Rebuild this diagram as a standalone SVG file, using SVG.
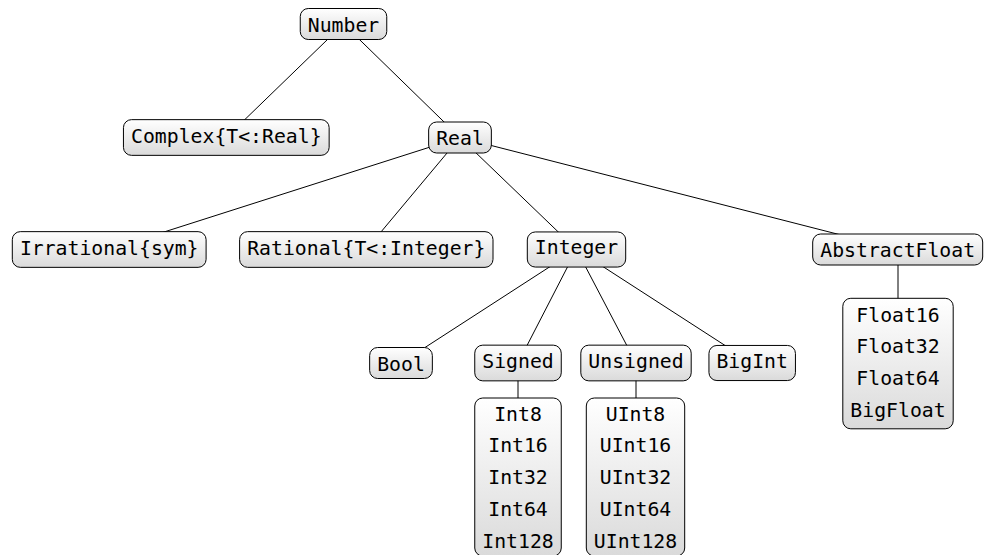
<svg xmlns="http://www.w3.org/2000/svg" width="984" height="555" viewBox="0 0 984 555">
<defs>
<linearGradient id="g" x1="0" y1="0" x2="0" y2="1">
<stop offset="0" stop-color="#ffffff"/>
<stop offset="1" stop-color="#dadada"/>
</linearGradient>
</defs>
<style>
rect{fill:url(#g);stroke:#000;stroke-width:1}
text{font-family:"DejaVu Sans Mono",monospace;font-size:19.8px;fill:#000;text-anchor:middle}
#connectors line{stroke:#000;stroke-width:1}
</style>
<rect x="0" y="0" width="984" height="555" style="fill:#fff;stroke:none"/>
<g id="connectors">
<line x1="343.5" y1="24" x2="226.3" y2="137.5"/>
<line x1="343.5" y1="24" x2="460" y2="137.5"/>
<line x1="460" y1="137.5" x2="109.2" y2="249.5"/>
<line x1="460" y1="137.5" x2="366.3" y2="249.5"/>
<line x1="460" y1="137.5" x2="576.5" y2="249.5"/>
<line x1="460" y1="137.5" x2="897.7" y2="249.5"/>
<line x1="576.5" y1="249.5" x2="401" y2="363"/>
<line x1="576.5" y1="249.5" x2="518" y2="363"/>
<line x1="576.5" y1="249.5" x2="636" y2="363"/>
<line x1="576.5" y1="249.5" x2="752.2" y2="363"/>
<line x1="518" y1="363" x2="518" y2="400"/>
<line x1="636" y1="363" x2="636" y2="400"/>
<line x1="898" y1="249.5" x2="898" y2="300"/>
</g>
<g id="number"><rect x="300.25" y="8.5" width="86.5" height="31" rx="8"/><text x="343.5" y="31.5">Number</text></g>
<g id="complex"><rect x="123.45" y="119.65" width="205.7" height="35.7" rx="8"/><text x="226.3" y="142.65">Complex{T&lt;:Real}</text></g>
<g id="real"><rect x="428.65" y="122" width="62.7" height="31" rx="8"/><text x="460" y="145">Real</text></g>
<g id="irrational"><rect x="12.3" y="231.65" width="193.8" height="35.7" rx="8"/><text x="109.2" y="254.65">Irrational{sym}</text></g>
<g id="rational"><rect x="239.6" y="231.65" width="253.4" height="35.7" rx="8"/><text x="366.3" y="254.65">Rational{T&lt;:Integer}</text></g>
<g id="integer"><rect x="527.3" y="231.95" width="98.4" height="35.1" rx="8"/><text x="576.5" y="254.35">Integer</text></g>
<g id="abstractfloat"><rect x="812.7" y="234" width="170" height="31" rx="8"/><text x="897.7" y="257">AbstractFloat</text></g>
<g id="bool"><rect x="369.65" y="347.5" width="62.7" height="31" rx="8"/><text x="401" y="370.5">Bool</text></g>
<g id="signed"><rect x="474.75" y="345.15" width="86.5" height="35.7" rx="8"/><text x="518" y="368.15">Signed</text></g>
<g id="unsigned"><rect x="580.8" y="345.15" width="110.4" height="35.7" rx="8"/><text x="636" y="368.15">Unsigned</text></g>
<g id="bigint"><rect x="708.95" y="345.45" width="86.5" height="35.1" rx="8"/><text x="752.2" y="367.85">BigInt</text></g>
<g id="intlist"><rect x="474.75" y="398" width="86.5" height="158" rx="8"/>
<text x="518" y="420.5">Int8</text><text x="518" y="452.3">Int16</text><text x="518" y="484.1">Int32</text><text x="518" y="515.9">Int64</text><text x="518" y="547.7">Int128</text></g>
<g id="uintlist"><rect x="586.3" y="398" width="98.4" height="158" rx="8"/>
<text x="635.5" y="420.5">UInt8</text><text x="635.5" y="452.3">UInt16</text><text x="635.5" y="484.1">UInt32</text><text x="635.5" y="515.9">UInt64</text><text x="635.5" y="547.7">UInt128</text></g>
<g id="floatlist"><rect x="842.8" y="298.3" width="110.4" height="130.5" rx="8"/>
<text x="898" y="321.5">Float16</text><text x="898" y="353.3">Float32</text><text x="898" y="385.1">Float64</text><text x="898" y="416.9">BigFloat</text></g>
</svg>
